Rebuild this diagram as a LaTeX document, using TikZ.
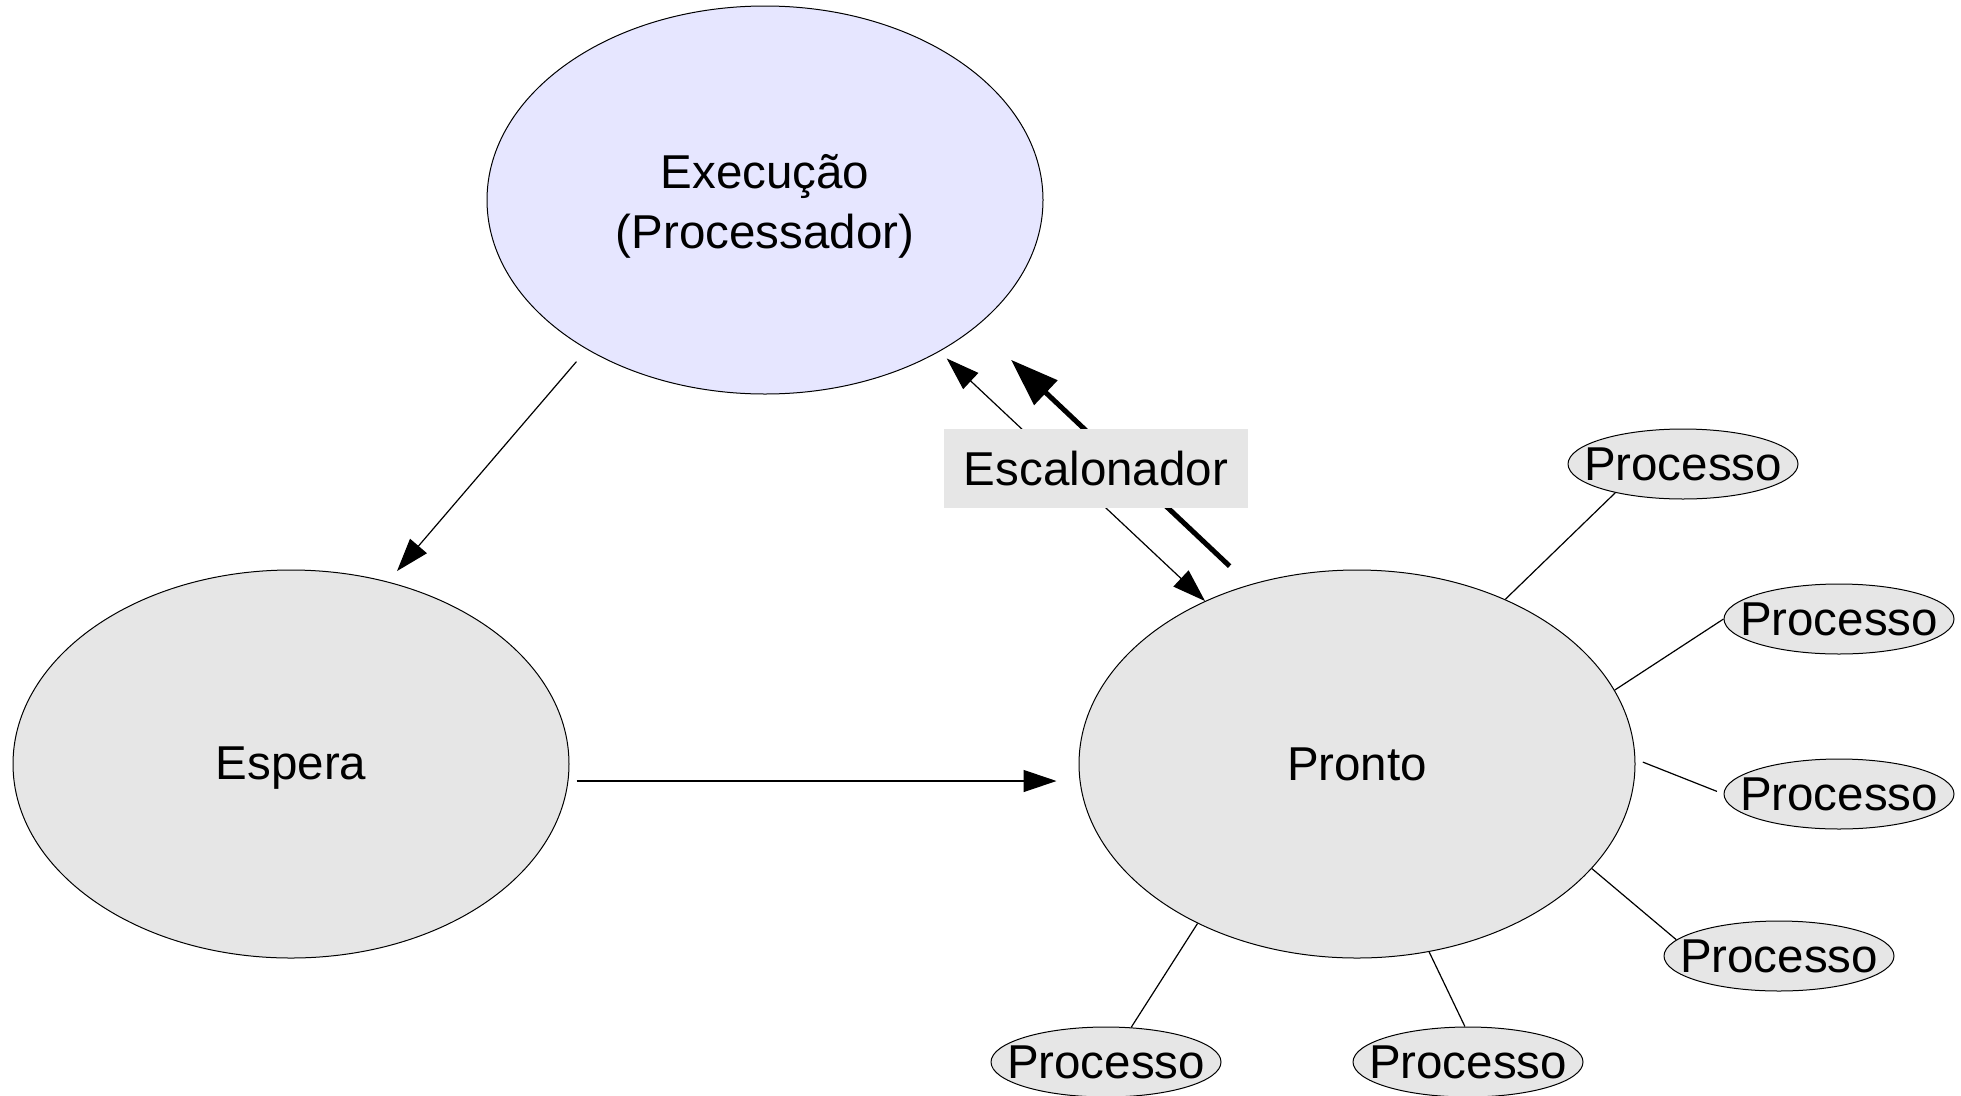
\documentclass[tikz,border=0pt]{standalone}
\usepackage{fontspec}
\setmainfont{Liberation Sans}
\usetikzlibrary{shapes.geometric,arrows.meta,calc}
\definecolor{grayfill}{HTML}{E6E6E6}
\definecolor{lavfill}{HTML}{E6E6FF}
\begin{document}
\begin{tikzpicture}[x=1pt,y=-1pt,
  every node/.style={font=\fontsize{47.5}{60}\selectfont},
  tri/.tip={Triangle[length=33pt,width=22pt]},
  bigtri/.tip={Triangle[length=48pt,width=33pt]},
  big/.style={ellipse, draw=black, line width=1pt, minimum width=556pt, minimum height=388pt, inner sep=0pt, align=center, fill=grayfill},
  proc/.style={ellipse, draw=black, line width=1pt, minimum width=230pt, minimum height=70pt, inner sep=0pt, fill=grayfill, label={center:Processo}},
  arr/.style={line width=1.2pt, -tri},
  link/.style={line width=1.2pt},
  escbox/.style={fill=grayfill, minimum width=304pt, minimum height=79pt, inner sep=0pt}]
\useasboundingbox (0,0) rectangle (1961,1095);
\fill[white] (0,0) rectangle (1961,1095);

\node[big, fill=lavfill, label={[align=center, yshift=-6pt]center:Execução\\(Processador)}] (exec) at (765,200) {};
\node[big, label={[yshift=-4pt]center:Espera}] (espera) at (291,764) {};
\node[big] (pronto) at (1357,764) {Pronto};

\node[proc] (p1) at (1683,464) {};
\node[proc] (p2) at (1839,619) {};
\node[proc] (p3) at (1839,794) {};
\node[proc] (p4) at (1779,956) {};
\node[proc] (p5) at (1106,1062) {};
\node[proc] (p6) at (1468,1062) {};

\draw[arr, shorten <=16pt, shorten >=14pt] (exec.220.25) -- (espera.62.9);
\draw[arr] ($(espera.east)+(7,17)$) -- ($(pronto.west)+(-22,17)$);
\draw[line width=1.2pt, tri-tri, shorten <=10pt] (exec.-41) -- (pronto.133.5);
\draw[line width=5pt, -bigtri, shorten <=27pt, shorten >=48pt] (pronto.121.1) -- (exec.-31.5);

\node[escbox] (esc) at (1096,468.5) {Escalonador};

\draw[link] (pronto.48.7) -- (p1.203.2);
\draw[link] (pronto.16.4) -- (p2.180);
\draw[link, shorten <=8pt, shorten >=7pt] (pronto.1) -- (p3.180);
\draw[link] (pronto.-24.2) -- (p4.171.4);
\draw[link] (pronto.225.7) -- (p5.54.5);
\draw[link] (pronto.-69.4) -- (p6.95);
\end{tikzpicture}
\end{document}
